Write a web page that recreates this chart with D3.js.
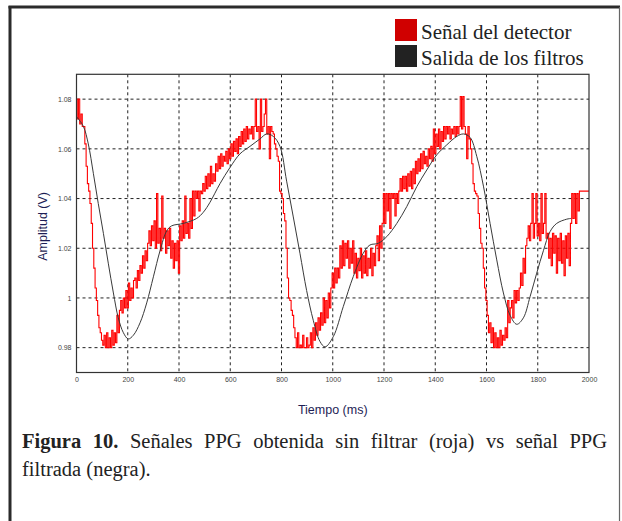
<!DOCTYPE html>
<html><head><meta charset="utf-8">
<script src="https://cdn.jsdelivr.net/npm/d3@7"></script>
<style>body{margin:0;background:#fff;} svg{display:block}</style>
</head><body>
<svg id="c" width="622" height="521"></svg>
<script>
const xTicks = [0,200,400,600,800,1000,1200,1400,1600,1800,2000];
const yTicks = [0.98,1,1.02,1.04,1.06,1.08];
const yTickLabels = ["0.98","1","1.02","1.04","1.06","1.08"];
const legendLabels = ["Señal del detector","Salida de los filtros"];
const legendColors = ["#d00000","#222222"];
const xTitle = "Tiempo (ms)";
const yTitle = "Amplitud (V)";
const captionLine1 = [["Figura",true],["10.",true],["Señales",false],["PPG",false],["obtenida",false],["sin",false],["filtrar",false],["(roja)",false],["vs",false],["señal",false],["PPG",false]];
const captionLine2 = "filtrada (negra).";

// raw detector signal [time ms, volts]
const rawSignal = [
[0,1.080],[5,1.072],[10,1.080],[15,1.070],[20,1.074],[25,1.069],[30,1.069],
[35,1.062],[40,1.053],[45,1.046],[50,1.043],[55,1.038],[60,1.030],[65,1.020],[70,1.012],[75,1.004],[80,0.999],[85,0.993],[90,0.988],[95,0.986],[100,0.983],
[105,0.981],[110,0.985],[115,0.980],[120,0.986],[125,0.980],[130,0.984],[135,0.980],[140,0.987],[145,0.981],[150,0.986],[155,0.982],
[160,0.993],[165,0.986],[170,0.995],
[175,0.999],[180,0.994],[185,1.000],[190,0.996],[195,1.003],[200,0.996],[205,1.006],[210,0.999],[215,1.004],[220,1.000],[225,1.007],
[230,1.008],[235,1.004],[240,1.011],[245,1.007],[250,1.013],[255,1.010],
[260,1.017],[265,1.012],[270,1.019],[275,1.015],[280,1.022],
[285,1.027],[290,1.021],[295,1.029],[300,1.023],[305,1.031],[310,1.020],
[315,1.042],[320,1.022],[325,1.028],[330,1.019],[335,1.041],[340,1.024],[345,1.028],[350,1.018],[355,1.027],[360,1.021],[365,1.028],
[370,1.016],[375,1.023],[380,1.012],[385,1.022],[390,1.015],[395,1.023],[400,1.010],
[405,1.029],[410,1.023],[415,1.031],[420,1.024],[425,1.041],[430,1.026],[435,1.030],[440,1.024],[445,1.040],[450,1.028],
[455,1.043],[460,1.033],[465,1.043],[470,1.040],[475,1.043],[480,1.035],[485,1.043],[490,1.042],
[495,1.046],[500,1.043],[505,1.049],[510,1.044],[515,1.050],[520,1.045],[525,1.053],[530,1.046],[535,1.050],[540,1.047],[545,1.054],
[550,1.051],[555,1.057],[560,1.052],[565,1.058],[570,1.053],[575,1.057],[580,1.055],[585,1.059],[590,1.054],[595,1.060],[600,1.056],
[605,1.062],[610,1.057],[615,1.063],[620,1.059],[625,1.064],[630,1.058],[635,1.065],[640,1.061],
[645,1.067],[650,1.062],[655,1.068],[660,1.063],[665,1.069],[670,1.064],[675,1.068],[680,1.066],
[685,1.069],[690,1.064],[695,1.069],[700,1.080],[705,1.067],[710,1.069],[715,1.060],[720,1.080],[725,1.067],[730,1.069],[735,1.074],[740,1.080],[745,1.066],[750,1.069],[755,1.056],[760,1.069],[765,1.067],
[770,1.066],[775,1.062],[780,1.060],[785,1.057],[790,1.055],
[795,1.043],[800,1.042],[805,1.040],[810,1.034],[815,1.031],
[820,1.020],[825,1.008],[830,1.000],[835,0.999],[840,0.995],[845,0.993],
[850,0.988],[855,0.984],[860,0.980],[865,0.986],[870,0.980],[875,0.981],[880,0.980],[885,0.985],[890,0.980],[895,0.980],[900,0.984],[905,0.980],[910,0.981],[915,0.986],[920,0.980],[925,0.988],
[930,0.983],[935,0.990],[940,0.985],[945,0.992],[950,0.987],[955,0.994],[960,0.989],[965,1.000],[970,0.990],[975,0.999],[980,0.992],[985,1.002],[990,0.996],
[995,1.004],[1000,1.010],[1005,1.004],[1010,1.012],[1015,1.006],[1020,1.012],[1025,1.008],
[1030,1.021],[1035,1.012],[1040,1.023],[1045,1.013],[1050,1.022],[1055,1.016],[1060,1.023],[1065,1.012],[1070,1.020],[1075,1.014],[1080,1.023],[1085,1.010],[1090,1.018],[1095,1.008],[1100,1.016],[1105,1.011],[1110,1.020],[1115,1.008],[1120,1.017],[1125,1.010],[1130,1.019],[1135,1.009],[1140,1.016],[1145,1.012],[1150,1.020],[1155,1.009],[1160,1.018],[1165,1.013],[1170,1.021],
[1175,1.025],[1180,1.015],[1185,1.029],[1190,1.020],[1195,1.030],
[1200,1.042],[1205,1.030],[1210,1.042],[1215,1.035],[1220,1.042],[1225,1.028],[1230,1.042],[1235,1.040],[1240,1.042],[1245,1.033],[1250,1.042],[1255,1.038],[1260,1.043],
[1265,1.048],[1270,1.043],[1275,1.049],[1280,1.044],[1285,1.049],[1290,1.043],[1295,1.050],[1300,1.045],[1305,1.051],[1310,1.044],[1315,1.052],[1320,1.046],[1325,1.055],
[1330,1.050],[1335,1.056],[1340,1.051],[1345,1.058],[1350,1.052],[1355,1.059],[1360,1.054],[1365,1.057],[1370,1.053],[1375,1.060],[1380,1.056],[1385,1.061],[1390,1.055],
[1395,1.068],[1400,1.058],[1405,1.066],[1410,1.061],[1415,1.068],[1420,1.060],[1425,1.067],[1430,1.063],
[1435,1.069],[1440,1.064],[1445,1.069],[1450,1.066],[1455,1.069],[1460,1.064],[1465,1.068],[1470,1.066],[1475,1.069],[1480,1.065],[1485,1.069],[1490,1.066],[1495,1.069],[1500,1.081],[1505,1.068],[1510,1.081],[1515,1.069],[1520,1.066],[1525,1.056],[1530,1.069],[1535,1.064],
[1540,1.060],[1545,1.054],[1550,1.046],[1555,1.043],[1560,1.042],[1565,1.041],[1570,1.034],[1575,1.028],[1580,1.022],[1585,1.020],[1590,1.012],[1595,1.004],[1600,0.999],
[1605,0.993],[1610,0.986],[1615,0.990],[1620,0.982],[1625,0.988],[1630,0.980],[1635,0.986],[1640,0.980],[1645,0.984],[1650,0.980],[1655,0.987],[1660,0.981],[1665,0.985],[1670,0.983],[1675,0.988],[1680,0.984],
[1685,0.999],[1690,0.990],[1695,0.996],[1700,0.999],[1705,0.992],[1710,1.003],[1715,0.998],[1720,1.003],[1725,0.999],[1730,1.004],
[1735,1.010],[1740,1.005],[1745,1.016],[1750,1.010],[1755,1.021],[1760,1.024],
[1765,1.029],[1770,1.023],[1775,1.030],[1780,1.042],[1785,1.024],[1790,1.030],[1795,1.042],[1800,1.025],[1805,1.030],[1810,1.023],[1815,1.042],[1820,1.026],[1825,1.030],[1830,1.042],[1835,1.024],
[1840,1.026],[1845,1.016],[1850,1.024],[1855,1.013],[1860,1.026],[1865,1.018],[1870,1.025],[1875,1.010],[1880,1.024],[1885,1.015],[1890,1.026],[1895,1.014],[1900,1.023],[1905,1.009],[1910,1.025],[1915,1.016],[1920,1.026],[1925,1.013],
[1930,1.030],[1935,1.042],[1940,1.032],[1945,1.042],[1950,1.030],[1955,1.042],[1960,1.035],[1965,1.043],
[1970,1.043],[1975,1.043],[1980,1.043],[1985,1.043],[1990,1.043],[1995,1.043],[2000,1.043]
];

// filtered output [time ms, volts]
const filteredSignal = [
[0,1.073],[27,1.069],[46,1.062],[66,1.050],[85,1.038],[105,1.026],[124,1.014],[144,1.002],[163,0.992],[183,0.986],[202,0.9835],[222,0.985],[248,0.990],[274,0.998],[300,1.0085],[326,1.019],[352,1.027],[371,1.029],[417,1.030],[469,1.032],[495,1.0345],[521,1.0385],[560,1.046],[599,1.0525],[638,1.058],[677,1.061],[716,1.064],[742,1.066],[768,1.065],[794,1.061],[820,1.047],[846,1.0326],[872,1.018],[898,1.003],[924,0.991],[950,0.9825],[970,0.9803],[1002,0.9844],[1041,0.9965],[1080,1.0086],[1119,1.018],[1145,1.0213],[1178,1.022],[1211,1.0247],[1250,1.030],[1289,1.0368],[1328,1.0448],[1367,1.0515],[1406,1.0576],[1445,1.0616],[1484,1.065],[1510,1.066],[1536,1.0646],[1562,1.057],[1588,1.045],[1614,1.030],[1640,1.0153],[1666,1.002],[1692,0.993],[1718,0.9894],[1744,0.992],[1770,1.0005],[1796,1.010],[1822,1.019],[1848,1.0267],[1874,1.030],[1913,1.0317],[1930,1.032]
];

const svg = d3.select("#c");
const W = 622, H = 521;
const plot = {left:76.5, right:589, top:74.3, bottom:372.5};
const x = d3.scaleLinear().domain([0,2000]).range([plot.left, plot.right]);
const y = d3.scaleLinear().domain([0.97,1.09]).range([plot.bottom, plot.top]);

svg.append("rect").attr("width",W).attr("height",H).attr("fill","#fff");
// outer border
svg.append("line").attr("x1",10).attr("x2",10).attr("y1",6).attr("y2",H).attr("stroke","#2b2b2b").attr("stroke-width",3);
svg.append("line").attr("x1",8.5).attr("x2",620).attr("y1",7).attr("y2",7).attr("stroke","#2b2b2b").attr("stroke-width",3);
svg.append("line").attr("x1",619.5).attr("x2",619.5).attr("y1",7).attr("y2",H).attr("stroke","#666").attr("stroke-width",1.2);

// gridlines
const g = svg.append("g");
g.selectAll("line.hg").data(yTicks).join("line").attr("class","hg")
  .attr("x1",plot.left).attr("x2",plot.right)
  .attr("y1",d=>y(d)).attr("y2",d=>y(d))
  .attr("stroke","#222").attr("stroke-width",1).attr("stroke-dasharray","3,3");
g.selectAll("line.vg").data(xTicks.slice(1,-1)).join("line").attr("class","vg")
  .attr("x1",d=>x(d)).attr("x2",d=>x(d))
  .attr("y1",plot.top).attr("y2",plot.bottom)
  .attr("stroke","#222").attr("stroke-width",1).attr("stroke-dasharray","3,3");

// axes (labels only)
const xAxis = d3.axisBottom(x).tickValues(xTicks).tickSize(0).tickPadding(5).tickFormat(d3.format("d"));
const ax = svg.append("g").attr("transform",`translate(0,${plot.bottom})`).call(xAxis);
ax.select(".domain").remove();
ax.selectAll("text").attr("font-family","Liberation Sans, Arial, sans-serif").attr("font-size",7).attr("fill","#444");
const yAxis = d3.axisLeft(y).tickValues(yTicks).tickSize(0).tickPadding(5).tickFormat((d,i)=>yTickLabels[i]);
const ay = svg.append("g").attr("transform",`translate(${plot.left},0)`).call(yAxis);
ay.select(".domain").remove();
ay.selectAll("text").attr("font-family","Liberation Sans, Arial, sans-serif").attr("font-size",7).attr("fill","#444");

// lines
svg.append("clipPath").attr("id","pc").append("rect")
  .attr("x",plot.left).attr("y",plot.top-2).attr("width",plot.right-plot.left).attr("height",plot.bottom-plot.top+2);
const lineRaw = d3.line().x(d=>x(d[0])).y(d=>y(d[1])).curve(d3.curveStep);
svg.append("path").datum(rawSignal).attr("d",lineRaw).attr("fill","none")
  .attr("stroke","#ff0000").attr("stroke-width",1.1).attr("clip-path","url(#pc)");
const lineF = d3.line().x(d=>x(d[0])).y(d=>y(d[1])).curve(d3.curveCatmullRom.alpha(0.5));
svg.append("path").datum(filteredSignal).attr("d",lineF).attr("fill","none")
  .attr("stroke","#3a3a3a").attr("stroke-width",1);

// frame
svg.append("rect").attr("x",plot.left).attr("y",plot.top).attr("width",plot.right-plot.left).attr("height",plot.bottom-plot.top)
  .attr("fill","none").attr("stroke","#333").attr("stroke-width",1.2);

// axis titles
svg.append("text").attr("x",(plot.left+plot.right)/2).attr("y",414).attr("text-anchor","middle")
  .attr("font-family","Liberation Sans, Arial, sans-serif").attr("font-size",12.5).attr("fill","#1e1e55").text(xTitle);
svg.append("text").attr("transform",`translate(47,${(plot.top+plot.bottom)/2+3}) rotate(-90)`).attr("text-anchor","middle")
  .attr("font-family","Liberation Sans, Arial, sans-serif").attr("font-size",12.5).attr("fill","#1e1e55").text(yTitle);

// legend
const leg = svg.append("g");
legendLabels.forEach((lab,i)=>{
  leg.append("rect").attr("x",395).attr("y",19+i*26).attr("width",22).attr("height",22).attr("fill",legendColors[i]);
  leg.append("text").attr("x",421).attr("y",39+i*26).attr("font-family","Liberation Serif, Times New Roman, serif")
    .attr("font-size",21).attr("fill","#222").text(lab);
});

// caption (justified first line)
const capFont = "Liberation Serif, Times New Roman, serif";
const capL = 22, capR = 607, capY1 = 448, capY2 = 476, capSize = 20.5;
const words = captionLine1.map(([w,b])=>{
  const t = svg.append("text").attr("y",capY1).attr("font-family",capFont).attr("font-size",capSize)
    .attr("font-weight",b?"bold":"normal").attr("fill","#222").text(w);
  return {t, w: t.node().getComputedTextLength()};
});
const totalW = d3.sum(words,d=>d.w);
const gap = (capR-capL-totalW)/(words.length-1);
let cx = capL;
words.forEach(d=>{ d.t.attr("x",cx); cx += d.w + gap; });
svg.append("text").attr("x",capL).attr("y",capY2).attr("font-family",capFont).attr("font-size",capSize)
  .attr("fill","#222").text(captionLine2);
</script>
</body></html>
